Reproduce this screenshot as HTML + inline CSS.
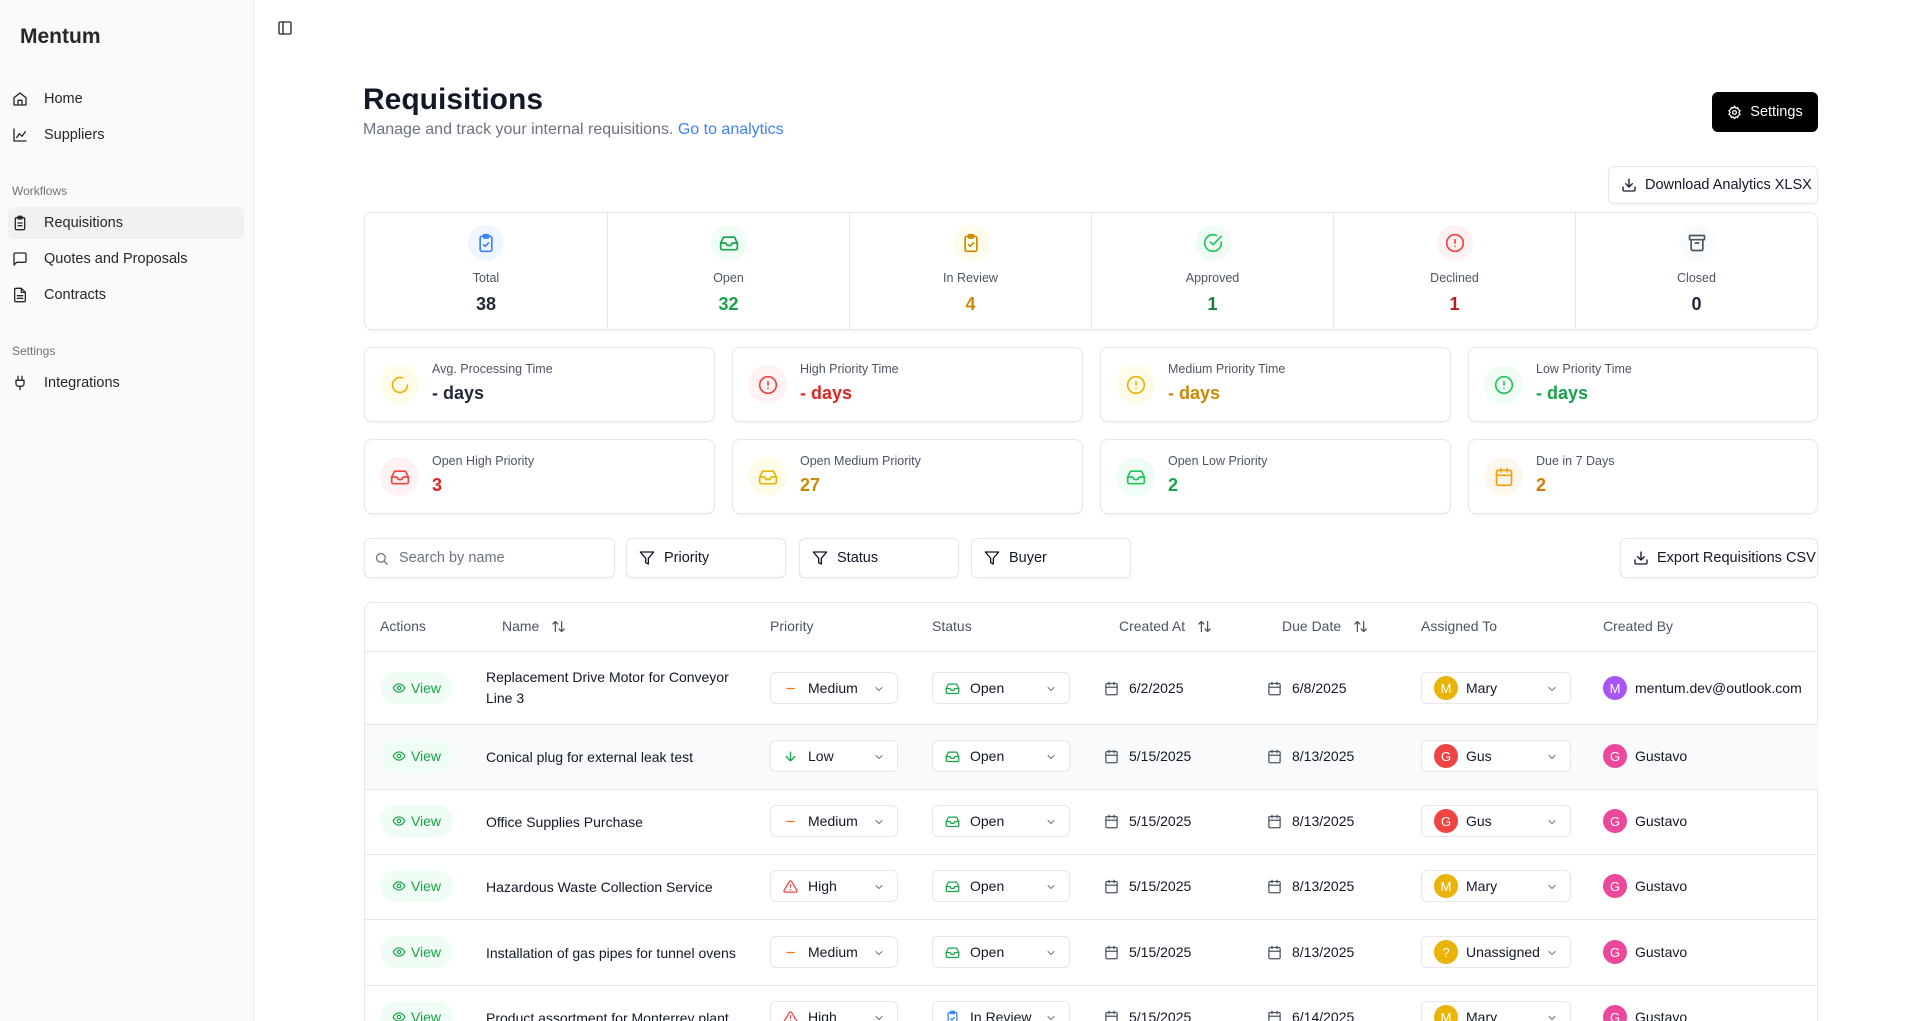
<!DOCTYPE html>
<html style="overflow:hidden"><head><meta charset="utf-8"><style>
*{box-sizing:border-box;margin:0;padding:0}
html,body{width:1922px;height:1021px;overflow:hidden}
body{background:#fff;font-family:"Liberation Sans",Arial,sans-serif;color:#111827;position:relative;white-space:nowrap}
.a{position:absolute}
.side{left:0;top:0;width:254px;height:1021px;background:#fafafa;border-right:1px solid #e5e7eb}
.nav{position:absolute;left:12px;font-size:14.5px;color:#27272a;display:flex;align-items:center;gap:16px;height:32px}
.nav svg{width:16px;height:16px}
.sec{position:absolute;left:12px;font-size:12px;color:#71717a}
svg{fill:none;stroke:currentColor;stroke-width:2;stroke-linecap:round;stroke-linejoin:round}
.card{position:absolute;border:1px solid #e5e7eb;border-radius:8px;background:#fff;box-shadow:0 1px 2px rgba(0,0,0,.05)}
.st{position:absolute;top:0;height:100%;width:242px;text-align:center}
.st .ic{width:36px;height:36px;border-radius:50%;margin:12px auto 0;display:flex;align-items:center;justify-content:center}
.st .ic svg{width:20px;height:20px}
.st .l{font-size:12.5px;color:#4b5563;margin-top:10px}
.st .v{font-size:18px;font-weight:bold;margin-top:9px}
.mc .ic{position:absolute;left:15px;top:17px;width:39px;height:39px;border-radius:50%;display:flex;align-items:center;justify-content:center}
.mc .ic svg{width:20px;height:20px}
.mc .l{position:absolute;left:67px;top:14px;font-size:12.5px;color:#4b5563}
.mc .v{position:absolute;left:67px;top:35px;font-size:18px;font-weight:bold}
.btn{position:absolute;border:1px solid #e5e7eb;border-radius:6px;background:#fff;font-size:14.5px;display:flex;align-items:center;gap:9px;padding-left:13px;box-shadow:0 1px 2px rgba(0,0,0,.05)}
.btn svg{width:16px;height:16px}
.th{position:absolute;top:618px;font-size:14px;color:#4b5563;display:flex;align-items:center;gap:12px}
.th svg{width:15px;height:15px}
.row{position:absolute;left:365px;width:1453px;border-top:1px solid #e5e7eb}
.c{position:absolute;font-size:14px;color:#111827;display:flex;align-items:center}
.view{position:absolute;left:380px;width:73px;height:32px;border-radius:16px;background:#f0fdf4;color:#16a34a;font-size:14px;display:flex;align-items:center;justify-content:center;gap:5px}
.view svg{width:14px;height:14px}
.dd{position:absolute;height:32px;border:1px solid #e5e7eb;border-radius:6px;background:#fff;font-size:14px;display:flex;align-items:center;padding-left:12px;gap:10px}
.dd .ch{position:absolute;right:12px;top:10px;width:12px;height:12px;color:#6b7280}
.dd .i{width:15px;height:15px}
.av{width:24px;height:24px;border-radius:50%;color:#fff;font-size:13px;display:inline-flex;align-items:center;justify-content:center}
.dt svg{width:15px;height:15px;color:#4b5563;margin-right:10px}
</style></head><body>
<div class="a side"></div>
<div class="a" style="left:20px;top:25px;font-size:21px;font-weight:bold;color:#27272a">Mentum</div>
<div class="nav" style="top:83px"><svg viewBox="0 0 24 24"><path d="M3 10l9-7 9 7v11H3z"/><path d="M9 21v-7h6v7"/></svg>Home</div>
<div class="nav" style="top:119px"><svg viewBox="0 0 24 24"><path d="M3 3v18h18"/><path d="M7 16l4-6 4 4 5-7"/></svg>Suppliers</div>
<div class="sec" style="top:184px">Workflows</div>
<div class="a" style="left:8px;top:207px;width:236px;height:32px;background:#f1f1f2;border-radius:6px"></div>
<div class="nav" style="top:207px"><svg viewBox="0 0 24 24"><rect x="5" y="4" width="14" height="18" rx="2"/><rect x="9" y="2" width="6" height="4" rx="1"/><path d="M9 12h6M9 16h6"/></svg>Requisitions</div>
<div class="nav" style="top:243px"><svg viewBox="0 0 24 24"><path d="M21 15a2 2 0 0 1-2 2H7l-4 4V5a2 2 0 0 1 2-2h14a2 2 0 0 1 2 2z"/></svg>Quotes and Proposals</div>
<div class="nav" style="top:279px"><svg viewBox="0 0 24 24"><path d="M14 2H6a2 2 0 0 0-2 2v16a2 2 0 0 0 2 2h12a2 2 0 0 0 2-2V8z"/><path d="M14 2v6h6M8 13h8M8 17h8"/></svg>Contracts</div>
<div class="sec" style="top:344px">Settings</div>
<div class="nav" style="top:367px"><svg viewBox="0 0 24 24"><path d="M12 22v-5M9 8V2M15 8V2M18 8v5a4 4 0 0 1-4 4h-4a4 4 0 0 1-4-4V8z"/></svg>Integrations</div>
<svg class="a" style="left:277px;top:20px;width:16px;height:16px;color:#27272a" viewBox="0 0 24 24"><rect x="3" y="3" width="18" height="18" rx="2"/><path d="M9 3v18"/></svg>

<div class="a" style="left:363px;top:83px;font-size:30px;font-weight:bold">Requisitions</div>
<div class="a" style="left:363px;top:121px;font-size:16px;color:#6b7280">Manage and track your internal requisitions. <span style="color:#3b82f6">Go to analytics</span></div>
<div class="a" style="left:1712px;top:92px;width:106px;height:40px;background:#000;border-radius:6px;color:#fff;font-size:14.5px;display:flex;align-items:center;justify-content:center;gap:8px"><svg viewBox="0 0 24 24" style="width:15px;height:15px"><circle cx="12" cy="12" r="3"/><path d="M12 2l2 3 3-1 1 3 3 2-2 3 2 3-3 2-1 3-3-1-2 3-2-3-3 1-1-3-3-2 2-3-2-3 3-2 1-3 3 1z"/></svg>Settings</div>
<div class="btn" style="left:1608px;top:166px;width:210px;height:38px;gap:8px;padding-left:12px"><svg viewBox="0 0 24 24"><path d="M21 15v4a2 2 0 0 1-2 2H5a2 2 0 0 1-2-2v-4M7 10l5 5 5-5M12 15V3"/></svg>Download Analytics XLSX</div>

<div class="card" style="left:364px;top:212px;width:1454px;height:118px">
<div class="st" style="left:0"><div class="ic" style="background:#eff6ff;color:#3b82f6"><svg viewBox="0 0 24 24"><rect x="5" y="4" width="14" height="18" rx="2"/><rect x="9" y="2" width="6" height="4" rx="1"/><path d="M9 14l2 2 4-4"/></svg></div><div class="l">Total</div><div class="v" style="color:#1f2937">38</div></div>
<div class="st" style="left:242px;border-left:1px solid #e5e7eb"><div class="ic" style="background:#f0fdf4;color:#16a34a"><svg viewBox="0 0 24 24"><path d="M22 12h-6l-2 3h-4l-2-3H2"/><path d="M5.5 5h13L22 12v6a2 2 0 0 1-2 2H4a2 2 0 0 1-2-2v-6z"/></svg></div><div class="l">Open</div><div class="v" style="color:#16a34a">32</div></div>
<div class="st" style="left:484px;border-left:1px solid #e5e7eb"><div class="ic" style="background:#fefce8;color:#ca8a04"><svg viewBox="0 0 24 24"><rect x="5" y="4" width="14" height="18" rx="2"/><rect x="9" y="2" width="6" height="4" rx="1"/><path d="M9 14l2 2 4-4"/></svg></div><div class="l">In Review</div><div class="v" style="color:#ca8a04">4</div></div>
<div class="st" style="left:726px;border-left:1px solid #e5e7eb"><div class="ic" style="background:#f0fdf4;color:#22c55e"><svg viewBox="0 0 24 24"><path d="M22 11v1a10 10 0 1 1-6-9.2"/><path d="M22 4L12 14l-3-3"/></svg></div><div class="l">Approved</div><div class="v" style="color:#15803d">1</div></div>
<div class="st" style="left:968px;border-left:1px solid #e5e7eb"><div class="ic" style="background:#fef2f2;color:#ef4444"><svg viewBox="0 0 24 24"><circle cx="12" cy="12" r="10"/><path d="M12 8v4M12 16h0"/></svg></div><div class="l">Declined</div><div class="v" style="color:#b91c1c">1</div></div>
<div class="st" style="left:1210px;border-left:1px solid #e5e7eb"><div class="ic" style="background:#f9fafb;color:#4b5563"><svg viewBox="0 0 24 24"><rect x="3" y="3" width="18" height="5" rx="1"/><path d="M5 8v11a2 2 0 0 0 2 2h10a2 2 0 0 0 2-2V8M10 12h4"/></svg></div><div class="l">Closed</div><div class="v" style="color:#1f2937">0</div></div>
</div>

<div class="card mc" style="left:364px;top:347px;width:351px;height:75px"><div class="ic" style="background:#fefce8;color:#eab308"><svg viewBox="0 0 24 24"><path d="M21 12a9 9 0 1 1-6.2-8.6"/></svg></div><div class="l">Avg. Processing Time</div><div class="v" style="color:#1f2937">- days</div></div>
<div class="card mc" style="left:732px;top:347px;width:351px;height:75px"><div class="ic" style="background:#fef2f2;color:#ef4444"><svg viewBox="0 0 24 24"><circle cx="12" cy="12" r="10"/><path d="M12 8v4M12 16h0"/></svg></div><div class="l">High Priority Time</div><div class="v" style="color:#dc2626">- days</div></div>
<div class="card mc" style="left:1100px;top:347px;width:351px;height:75px"><div class="ic" style="background:#fefce8;color:#eab308"><svg viewBox="0 0 24 24"><circle cx="12" cy="12" r="10"/><path d="M12 8v4M12 16h0"/></svg></div><div class="l">Medium Priority Time</div><div class="v" style="color:#ca8a04">- days</div></div>
<div class="card mc" style="left:1468px;top:347px;width:350px;height:75px"><div class="ic" style="background:#f0fdf4;color:#22c55e"><svg viewBox="0 0 24 24"><circle cx="12" cy="12" r="10"/><path d="M12 8v4M12 16h0"/></svg></div><div class="l">Low Priority Time</div><div class="v" style="color:#16a34a">- days</div></div>

<div class="card mc" style="left:364px;top:439px;width:351px;height:75px"><div class="ic" style="background:#fef2f2;color:#ef4444"><svg viewBox="0 0 24 24"><path d="M22 12h-6l-2 3h-4l-2-3H2"/><path d="M5.5 5h13L22 12v6a2 2 0 0 1-2 2H4a2 2 0 0 1-2-2v-6z"/></svg></div><div class="l">Open High Priority</div><div class="v" style="color:#dc2626">3</div></div>
<div class="card mc" style="left:732px;top:439px;width:351px;height:75px"><div class="ic" style="background:#fefce8;color:#eab308"><svg viewBox="0 0 24 24"><path d="M22 12h-6l-2 3h-4l-2-3H2"/><path d="M5.5 5h13L22 12v6a2 2 0 0 1-2 2H4a2 2 0 0 1-2-2v-6z"/></svg></div><div class="l">Open Medium Priority</div><div class="v" style="color:#ca8a04">27</div></div>
<div class="card mc" style="left:1100px;top:439px;width:351px;height:75px"><div class="ic" style="background:#f0fdf4;color:#22c55e"><svg viewBox="0 0 24 24"><path d="M22 12h-6l-2 3h-4l-2-3H2"/><path d="M5.5 5h13L22 12v6a2 2 0 0 1-2 2H4a2 2 0 0 1-2-2v-6z"/></svg></div><div class="l">Open Low Priority</div><div class="v" style="color:#16a34a">2</div></div>
<div class="card mc" style="left:1468px;top:439px;width:350px;height:75px"><div class="ic" style="background:#fff7ed;color:#f59e0b"><svg viewBox="0 0 24 24"><rect x="3" y="4" width="18" height="18" rx="2"/><path d="M16 2v4M8 2v4M3 10h18"/></svg></div><div class="l">Due in 7 Days</div><div class="v" style="color:#d97706">2</div></div>

<div class="btn" style="left:364px;top:538px;width:251px;height:40px;color:#6b7280;gap:10px;padding-left:9px"><svg viewBox="0 0 24 24" style="width:15px;height:15px"><circle cx="11" cy="11" r="7"/><path d="M21 21l-4.3-4.3"/></svg>Search by name</div>
<div class="btn" style="left:626px;top:538px;width:160px;height:40px;padding-left:12px"><svg viewBox="0 0 24 24"><path d="M22 3H2l8 9.5V19l4 2v-8.5z"/></svg>Priority</div>
<div class="btn" style="left:799px;top:538px;width:160px;height:40px;padding-left:12px"><svg viewBox="0 0 24 24"><path d="M22 3H2l8 9.5V19l4 2v-8.5z"/></svg>Status</div>
<div class="btn" style="left:971px;top:538px;width:160px;height:40px;padding-left:12px"><svg viewBox="0 0 24 24"><path d="M22 3H2l8 9.5V19l4 2v-8.5z"/></svg>Buyer</div>
<div class="btn" style="left:1620px;top:538px;width:198px;height:40px;gap:8px;padding-left:12px;white-space:nowrap"><svg viewBox="0 0 24 24"><path d="M21 15v4a2 2 0 0 1-2 2H5a2 2 0 0 1-2-2v-4M7 10l5 5 5-5M12 15V3"/></svg>Export Requisitions CSV</div>

<div class="card" style="left:364px;top:602px;width:1454px;height:430px;box-shadow:none"></div>
<div class="th" style="left:380px">Actions</div>
<div class="th" style="left:502px">Name <svg viewBox="0 0 24 24"><path d="M7 4v16M3 8l4-4 4 4M17 20V4M13 16l4 4 4-4"/></svg></div>
<div class="th" style="left:770px">Priority</div>
<div class="th" style="left:932px">Status</div>
<div class="th" style="left:1119px">Created At <svg viewBox="0 0 24 24"><path d="M7 4v16M3 8l4-4 4 4M17 20V4M13 16l4 4 4-4"/></svg></div>
<div class="th" style="left:1282px">Due Date <svg viewBox="0 0 24 24"><path d="M7 4v16M3 8l4-4 4 4M17 20V4M13 16l4 4 4-4"/></svg></div>
<div class="th" style="left:1421px">Assigned To</div>
<div class="th" style="left:1603px">Created By</div>

<div class="row" style="top:651px;height:73px"></div>
<div class="row" style="top:724px;height:65px;background:#f9fafb"></div>
<div class="row" style="top:789px;height:65px"></div>
<div class="row" style="top:854px;height:65px"></div>
<div class="row" style="top:919px;height:66px"></div>
<div class="row" style="top:985px;height:36px"></div>

<div id="rows"></div>
<script>
const eye='<svg viewBox="0 0 24 24"><path d="M2 12s3.5-7 10-7 10 7 10 7-3.5 7-10 7S2 12 2 12z"/><circle cx="12" cy="12" r="3"/></svg>';
const ch='<svg class="ch" viewBox="0 0 24 24"><path d="M6 9l6 6 6-6"/></svg>';
const cal='<svg viewBox="0 0 24 24"><rect x="3" y="4" width="18" height="18" rx="2"/><path d="M16 2v4M8 2v4M3 10h18"/></svg>';
const pr={Medium:'<svg class="i" viewBox="0 0 24 24" style="color:#f97316"><path d="M6 12h12"/></svg>',Low:'<svg class="i" viewBox="0 0 24 24" style="color:#16a34a"><path d="M12 5v14M19 12l-7 7-7-7"/></svg>',High:'<svg class="i" viewBox="0 0 24 24" style="color:#ef4444"><path d="M10.3 3.9L1.8 18a2 2 0 0 0 1.7 3h17a2 2 0 0 0 1.7-3L13.7 3.9a2 2 0 0 0-3.4 0zM12 9v4M12 17h0"/></svg>'};
const stI={Open:'<svg class="i" viewBox="0 0 24 24" style="color:#16a34a"><path d="M22 12h-6l-2 3h-4l-2-3H2"/><path d="M5.5 5h13L22 12v6a2 2 0 0 1-2 2H4a2 2 0 0 1-2-2v-6z"/></svg>','In Review':'<svg class="i" viewBox="0 0 24 24" style="color:#3b82f6"><rect x="5" y="4" width="14" height="18" rx="2"/><rect x="9" y="2" width="6" height="4" rx="1"/><path d="M9 14l2 2 4-4"/></svg>'};
const avc={M:'#eab308',G:'#ef4444','?':'#eab308'};
const R=[
[688,'Replacement Drive Motor for Conveyor<br>Line 3','Medium','Open','6/2/2025','6/8/2025','M','Mary','M','mentum.dev@outlook.com','#a855f7'],
[756,'Conical plug for external leak test','Low','Open','5/15/2025','8/13/2025','G','Gus','G','Gustavo','#ec4899'],
[821,'Office Supplies Purchase','Medium','Open','5/15/2025','8/13/2025','G','Gus','G','Gustavo','#ec4899'],
[886,'Hazardous Waste Collection Service','High','Open','5/15/2025','8/13/2025','M','Mary','G','Gustavo','#ec4899'],
[952,'Installation of gas pipes for tunnel ovens','Medium','Open','5/15/2025','8/13/2025','?','Unassigned','G','Gustavo','#ec4899'],
[1017,'Product assortment for Monterrey plant','High','In Review','5/15/2025','6/14/2025','M','Mary','G','Gustavo','#ec4899']];
let h='';
for(const r of R){const y=r[0],t=y-16;
h+=`<div class="view" style="top:${t}px">${eye}View</div>`;
h+=`<div class="c" style="left:486px;top:${y-(r[1].includes('<br>')?21:9)}px;line-height:21px;width:250px;white-space:normal">${r[1]}</div>`;
h+=`<div class="dd" style="left:770px;top:${t}px;width:128px">${pr[r[2]]}${r[2]}${ch}</div>`;
h+=`<div class="dd" style="left:932px;top:${t}px;width:138px">${stI[r[3]]}${r[3]}${ch}</div>`;
h+=`<div class="c dt" style="left:1104px;top:${y-8}px">${cal}${r[4]}</div>`;
h+=`<div class="c dt" style="left:1267px;top:${y-8}px">${cal}${r[5]}</div>`;
h+=`<div class="dd" style="left:1421px;top:${t}px;width:150px;padding-left:12px;gap:8px"><span class="av" style="background:${avc[r[6]]}">${r[6]}</span>${r[7]}${ch}</div>`;
h+=`<div class="c" style="left:1603px;top:${y-12}px;gap:8px"><span class="av" style="background:${r[10]}">${r[8]}</span>${r[9]}</div>`;}
document.getElementById('rows').innerHTML=h;
</script>
</body></html>
